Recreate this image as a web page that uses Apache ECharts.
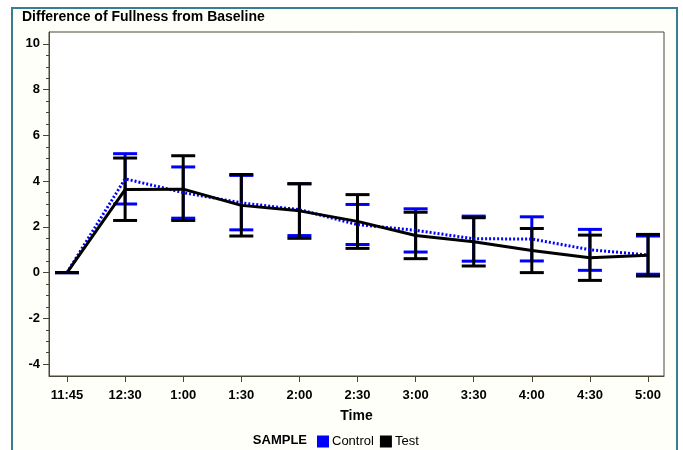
<!DOCTYPE html>
<html>
<head>
<meta charset="utf-8">
<script src="https://cdn.jsdelivr.net/npm/echarts@6/dist/echarts.min.js"></script>
<style>
  html, body { margin: 0; padding: 0; background: #ffffff; }
  #chart { width: 683px; height: 450px; }
</style>
</head>
<body>
<div id="chart"></div>
<script>
// time points along the x axis
const times = ['11:45', '12:30', '1:00', '1:30', '2:00', '2:30', '3:00', '3:30', '4:00', '4:30', '5:00'];

// Control sample: mean and error bar ends
const controlMean = [0, 4.1, 3.5, 3.05, 2.75, 2.1, 1.85, 1.48, 1.47, 1.0, 0.77];
const controlLow  = [0, 3.0, 2.38, 1.87, 1.62, 1.23, 0.9, 0.5, 0.51, 0.1, -0.07];
const controlHigh = [0, 5.2, 4.62, 4.25, 3.88, 2.98, 2.79, 2.47, 2.44, 1.89, 1.6];

// Test sample
const testMean = [0, 3.63, 3.65, 2.94, 2.7, 2.24, 1.62, 1.35, 0.97, 0.65, 0.76];
const testLow  = [0, 2.28, 2.28, 1.6, 1.5, 1.06, 0.61, 0.29, 0.0, -0.34, -0.15];
const testHigh = [0, 5.01, 5.11, 4.29, 3.89, 3.41, 2.64, 2.4, 1.93, 1.64, 1.67];

// y tick labels
const yTicks = [-4, -2, 0, 2, 4, 6, 8, 10];

const FONT = '"Liberation Sans", Arial, sans-serif';
const AXIS_COLOR = '#4a4636';

let yMinor = [];
for (let v = -4; v < 10; v += 0.5) {
    if (v % 2 !== 0) yMinor.push(v);
}
const xIdx = times.map((t, i) => i);

function errorBarSeries(name, low, high, color) {
    return {
        name: name,
        type: 'custom',
        silent: true,
        data: xIdx.map(i => [i, low[i], high[i]]),
        renderItem: function (params, api) {
            const top = api.coord([api.value(0), api.value(2)]);
            const bot = api.coord([api.value(0), api.value(1)]);
            const hw = 12;
            const st = { stroke: color, lineWidth: 3 };
            return {
                type: 'group',
                children: [
                    { type: 'line', shape: { x1: top[0], y1: top[1], x2: bot[0], y2: bot[1] }, style: st },
                    { type: 'line', shape: { x1: top[0] - hw, y1: top[1], x2: top[0] + hw, y2: top[1] }, style: st },
                    { type: 'line', shape: { x1: bot[0] - hw, y1: bot[1], x2: bot[0] + hw, y2: bot[1] }, style: st }
                ]
            };
        },
        z: 2
    };
}

let chart = echarts.init(document.getElementById('chart'), null, { renderer: 'canvas' });

let option = {
    animation: false,
    backgroundColor: '#ffffff',
    graphic: [
        {
            type: 'rect',
            shape: { x: 12, y: 8, width: 665, height: 460 },
            style: { fill: '#fffffa', stroke: '#367f8f', lineWidth: 2 },
            z: -10
        },
        {
            type: 'text',
            left: 22, top: 10,
            style: { text: 'Difference of Fullness from Baseline', font: 'bold 14px ' + FONT, fill: '#000' }
        },
        {
            type: 'text',
            x: 307, y: 440,
            style: { text: 'SAMPLE', font: 'bold 13px ' + FONT, fill: '#000', align: 'right', verticalAlign: 'middle' }
        }
    ],
    grid: {
        left: 49, right: 19, top: 32, bottom: 74,
        show: true, backgroundColor: '#ffffff',
        borderColor: AXIS_COLOR, borderWidth: 1
    },
    legend: {
        left: 312, top: 430,
        itemWidth: 12, itemHeight: 12, itemGap: 6,
        textStyle: { fontFamily: FONT, fontSize: 13, color: '#000', padding: [0, 0, 0, -2] },
        data: [
            { name: 'Control', icon: 'rect', itemStyle: { color: '#0000ff', borderWidth: 0 } },
            { name: 'Test', icon: 'rect', itemStyle: { color: '#000000', borderWidth: 0 } }
        ]
    },
    xAxis: {
        type: 'value',
        min: -0.31, max: 10.275,
        name: 'Time', nameLocation: 'middle', nameGap: 33,
        nameTextStyle: { fontFamily: FONT, fontSize: 14, fontWeight: 'bold', color: '#000' },
        axisLine: { onZero: false, lineStyle: { color: AXIS_COLOR } },
        axisTick: { customValues: xIdx, length: 6, lineStyle: { color: AXIS_COLOR } },
        axisLabel: {
            customValues: xIdx, margin: 13,
            formatter: v => times[Math.round(v)],
            fontFamily: FONT, fontSize: 13, fontWeight: 'bold', color: '#000'
        },
        splitLine: { show: false }
    },
    yAxis: [
        {
            type: 'value',
            min: -4.52, max: 10.52,
            axisLine: { show: true, onZero: false, lineStyle: { color: AXIS_COLOR } },
            axisTick: { show: true, customValues: yTicks, length: 6, lineStyle: { color: AXIS_COLOR } },
            axisLabel: {
                customValues: yTicks, margin: 9,
                fontFamily: FONT, fontSize: 13, fontWeight: 'bold', color: '#000'
            },
            splitLine: { show: false }
        },
        {
            type: 'value',
            position: 'left',
            min: -4.52, max: 10.52,
            axisLine: { show: false, onZero: false },
            axisTick: { show: true, customValues: yMinor, length: 3, lineStyle: { color: AXIS_COLOR } },
            axisLabel: { show: false },
            splitLine: { show: false }
        }
    ],
    series: [
        errorBarSeries('ControlErr', controlLow, controlHigh, '#0000ff'),
        errorBarSeries('TestErr', testLow, testHigh, '#000000'),
        {
            name: 'Control',
            type: 'line',
            data: xIdx.map(i => [i, controlMean[i]]),
            showSymbol: false,
            color: '#0000ff',
            lineStyle: { color: '#0000ff', width: 3, type: [2, 2] },
            z: 3
        },
        {
            name: 'Test',
            type: 'line',
            data: xIdx.map(i => [i, testMean[i]]),
            showSymbol: false,
            color: '#000000',
            lineStyle: { color: '#000000', width: 3 },
            z: 4
        }
    ]
};

chart.setOption(option);
</script>
</body>
</html>
